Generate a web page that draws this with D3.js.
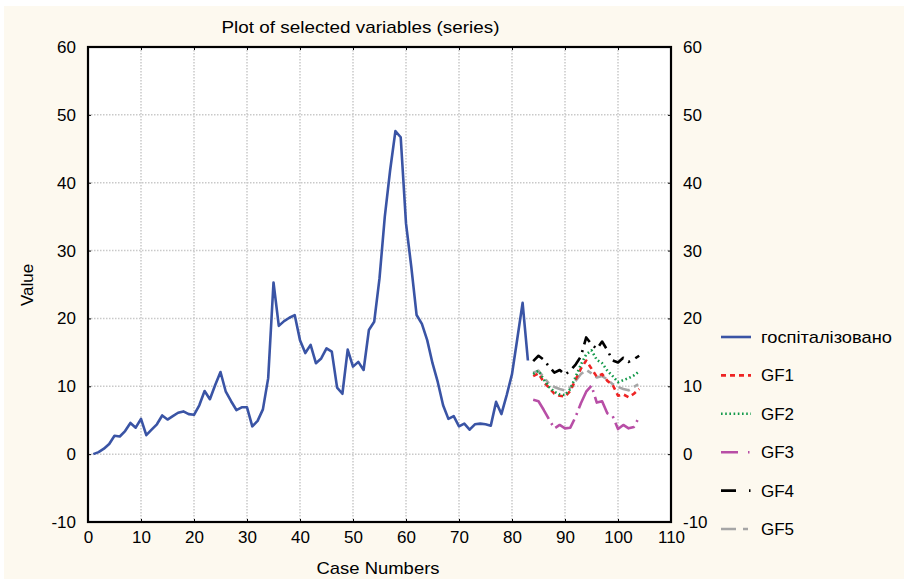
<!DOCTYPE html>
<html><head><meta charset="utf-8">
<script src="https://cdn.jsdelivr.net/npm/d3@7"></script>
<style>body{margin:0;background:#fff}svg{display:block}</style></head>
<body><svg id="c" width="904" height="579"></svg>
<script>
// ---- data ----
const caseNumbers = d3.range(1, 84);
const hospitalized = [0.0,0.3,0.8,1.5,2.7,2.6,3.4,4.6,3.9,5.2,
  2.8,3.6,4.4,5.7,5.1,5.6,6.1,6.3,5.9,5.8,
  7.2,9.3,8.1,10.2,12.1,9.2,7.8,6.5,6.9,6.9,
  4.1,4.9,6.6,11.2,25.3,18.9,19.6,20.1,20.5,16.8,
  14.9,16.1,13.4,14.1,15.6,15.1,9.8,8.9,15.4,12.9,
  13.6,12.4,18.3,19.5,25.9,35.0,41.8,47.6,46.7,34.0,
  27.6,20.5,19.2,16.8,13.4,10.6,7.2,5.2,5.6,4.1,
  4.5,3.6,4.4,4.5,4.4,4.2,7.7,5.9,8.7,11.8,
  17.0,22.3,13.8];
const forecastCases = d3.range(84, 105);
const gf1 = [11.5,11.9,10.6,9.8,8.9,8.6,8.5,9.3,11.0,12.6,13.8,12.6,11.4,11.8,10.8,10.2,8.6,8.8,8.4,8.9,9.6];
const gf2 = [11.8,12.3,11.0,9.9,9.2,8.8,8.7,9.6,11.4,13.2,14.7,15.3,13.9,13.4,12.3,11.5,10.6,10.9,11.2,11.6,12.2];
const gf3 = [8.0,7.8,6.5,5.1,3.8,4.3,3.8,3.9,5.5,7.5,9.2,10.1,7.6,7.8,6.0,5.6,3.7,4.3,3.8,4.0,5.5];
const gf4 = [13.7,14.5,13.9,12.9,12.0,12.4,11.7,12.3,13.2,14.4,17.2,16.2,15.5,16.6,15.3,13.8,13.5,14.2,13.6,14.0,14.5];
const gf5 = [12.0,12.3,11.3,10.4,9.9,9.6,9.4,9.8,10.8,11.8,12.4,11.9,11.3,11.5,11.0,10.3,9.9,9.6,9.4,9.9,10.4];
const xTicks = [0,10,20,30,40,50,60,70,80,90,100,110];
const yTicks = [-10,0,10,20,30,40,50,60];
const seriesNames = ["госпіталізовано","GF1","GF2","GF3","GF4","GF5"];

// ---- layout ----
const W = 904, H = 579;
const L = 88, R = 671, T = 47, B = 522;
const font = "'Liberation Sans', Arial, sans-serif";
const svg = d3.select("#c");

svg.append("rect").attr("x",4).attr("y",6).attr("width",W-4).attr("height",H-6).attr("fill","#fdf9ef");
svg.append("rect").attr("x",L).attr("y",T).attr("width",R-L).attr("height",B-T).attr("fill","#fff");

const x = d3.scaleLinear().domain([0,110]).range([L,R]);
const y = d3.scaleLinear().domain([-10,60]).range([B,T]);

// grid
const g = svg.append("g");
g.selectAll(".gx").data(xTicks.slice(1,-1)).join("line")
  .attr("x1",d=>x(d)).attr("x2",d=>x(d)).attr("y1",T).attr("y2",B)
  .attr("stroke","#c9c9c9").attr("stroke-width",1.5).attr("stroke-dasharray","1.5,1.5");
g.selectAll(".gy").data(yTicks.slice(1,-1)).join("line")
  .attr("y1",d=>y(d)).attr("y2",d=>y(d)).attr("x1",L).attr("x2",R)
  .attr("stroke","#c9c9c9").attr("stroke-width",1.5).attr("stroke-dasharray","1.5,1.5");

// axes
const fmt = d => String(d);
const axFont = sel => sel.selectAll("text").attr("font-family",font).attr("font-size",17).attr("fill","#000");
const axL = svg.append("g").attr("transform",`translate(${L},0)`)
  .call(d3.axisLeft(y).tickValues(yTicks).tickFormat(fmt).tickSize(-3).tickPadding(12));
const axR = svg.append("g").attr("transform",`translate(${R},0)`)
  .call(d3.axisRight(y).tickValues(yTicks).tickFormat(fmt).tickSize(-3).tickPadding(12));
const axB = svg.append("g").attr("transform",`translate(0,${B})`)
  .call(d3.axisBottom(x).tickValues(xTicks).tickFormat(fmt).tickSize(-3).tickPadding(9));
const axT = svg.append("g").attr("transform",`translate(0,${T})`)
  .call(d3.axisTop(x).tickValues(xTicks).tickSize(-3).tickFormat(""));
[axL,axR,axB,axT].forEach(a=>{a.select(".domain").remove();axFont(a);a.selectAll("line").attr("stroke","#000");});

svg.append("rect").attr("x",L).attr("y",T).attr("width",R-L).attr("height",B-T)
  .attr("fill","none").attr("stroke","#000").attr("stroke-width",2.2);

// series
const line = d3.line().x(d=>x(d[0])).y(d=>y(d[1]));
const styles = [
  {c:"#3a54a5", dash:null, lg:null},
  {c:"#ee2424", dash:"5,4", lg:"5,4"},
  {c:"#12994a", dash:"1.6,2.6", lg:"1.6,2.6"},
  {c:"#b84ea6", dash:"26,5,2,5", lg:"17,10,1.5,5"},
  {c:"#000000", dash:"13,6,2,6", lg:"15,13,1.5,6"},
  {c:"#a6a6a6", dash:"12,5,5,5", lg:"15,7,5,7"}
];
const data = [
  d3.zip(caseNumbers, hospitalized),
  d3.zip(forecastCases, gf1),
  d3.zip(forecastCases, gf2),
  d3.zip(forecastCases, gf3),
  d3.zip(forecastCases, gf4),
  d3.zip(forecastCases, gf5)
];
const drawOrder = [5,3,4,1,2,0];
drawOrder.forEach(i=>{
  svg.append("path").attr("d",line(data[i])).attr("fill","none")
    .attr("stroke",styles[i].c).attr("stroke-width",2.6)
    .attr("stroke-dasharray",styles[i].dash)
    .attr("stroke-linejoin","round");
});

// legend
const lg = svg.append("g");
seriesNames.forEach((n,i)=>{
  const yy = 337 + i*38.4;
  lg.append("line").attr("x1",721).attr("x2",751).attr("y1",yy).attr("y2",yy)
    .attr("stroke",styles[i].c).attr("stroke-width",2.6).attr("stroke-dasharray",styles[i].lg);
  const t = lg.append("text").attr("x",761).attr("y",yy+6).text(n)
    .attr("font-family",font).attr("font-size",17);
  if (i === 0) t.attr("textLength",131).attr("lengthAdjust","spacingAndGlyphs");
});

// titles
svg.append("text").attr("x",360.5).attr("y",33).attr("text-anchor","middle")
  .attr("font-family",font).attr("font-size",17)
  .attr("textLength",278).attr("lengthAdjust","spacingAndGlyphs")
  .text("Plot of selected variables (series)");
svg.append("text").attr("x",378).attr("y",574).attr("text-anchor","middle")
  .attr("font-family",font).attr("font-size",17)
  .attr("textLength",123).attr("lengthAdjust","spacingAndGlyphs")
  .text("Case Numbers");
svg.append("text").attr("transform","translate(33,285) rotate(-90)").attr("text-anchor","middle")
  .attr("font-family",font).attr("font-size",17).text("Value");
</script></body></html>
